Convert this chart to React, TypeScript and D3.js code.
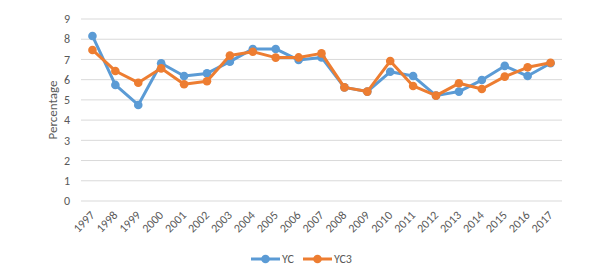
import React from 'react';
import * as d3 from 'd3';

const years = ['1997', '1998', '1999', '2000', '2001', '2002', '2003', '2004', '2005', '2006', '2007',
  '2008', '2009', '2010', '2011', '2012', '2013', '2014', '2015', '2016', '2017'];
const yc = [8.16, 5.74, 4.75, 6.81, 6.18, 6.31, 6.89, 7.52, 7.52, 6.97, 7.1,
  5.62, 5.41, 6.39, 6.18, 5.21, 5.41, 5.98, 6.68, 6.18, 6.81];
const yc3 = [7.47, 6.43, 5.85, 6.56, 5.77, 5.92, 7.19, 7.38, 7.09, 7.1, 7.3,
  5.62, 5.41, 6.92, 5.69, 5.21, 5.82, 5.54, 6.15, 6.61, 6.84];
const yTicks = [0, 1, 2, 3, 4, 5, 6, 7, 8, 9];

const series = [
  { name: 'YC', values: yc, color: '#5B9BD5' },
  { name: 'YC3', values: yc3, color: '#ED7D31' },
];

export default function App() {
  const width = 608;
  const height = 276;
  const left = 81;
  const right = 562;
  const top = 19;
  const bottom = 201;

  const x = d3.scaleBand().domain(years).range([left, right]);
  const y = d3.scaleLinear().domain([0, 9]).range([bottom, top]);
  const cx = (yr: string) => (x(yr) ?? 0) + x.bandwidth() / 2;

  const line = d3.line<number>()
    .x((_, i) => cx(years[i]))
    .y(d => y(d));

  const font = 'Carlito, "Liberation Sans", Arial, sans-serif';

  return (
    <svg width={width} height={height} style={{ position: 'absolute', left: 0, top: 0, background: '#fff' }}
      fontFamily={font}>
      {yTicks.map(t => (
        <g key={t}>
          <line x1={left} x2={right} y1={y(t)} y2={y(t)} stroke="#D9D9D9" strokeWidth={1} />
          <text x={70} y={y(t)} dy="0.35em" textAnchor="end" fontSize={12} fill="#595959">{t}</text>
        </g>
      ))}
      {years.map(yr => (
        <text key={yr} transform={`translate(${cx(yr) + 3},${bottom + 15}) rotate(-45)`}
          textAnchor="end" fontSize={12} fill="#595959">{yr}</text>
      ))}
      <text transform={`translate(57,110) rotate(-90)`} textAnchor="middle"
        fontSize={13} fill="#595959">Percentage</text>
      {series.map(s => (
        <g key={s.name}>
          <path d={line(s.values) ?? ''} fill="none" stroke={s.color} strokeWidth={3} strokeLinejoin="round" />
          {s.values.map((v, i) => (
            <circle key={i} cx={cx(years[i])} cy={y(v)} r={4.3} fill={s.color} />
          ))}
        </g>
      ))}
      {series.map((s, i) => {
        const lx = 251 + i * 52;
        return (
          <g key={s.name}>
            <line x1={lx} x2={lx + 29} y1={259} y2={259} stroke={s.color} strokeWidth={3} />
            <circle cx={lx + 14.5} cy={259} r={4.3} fill={s.color} />
            <text x={lx + 31} y={259} dy="0.35em" fontSize={12} fill="#595959">{s.name}</text>
          </g>
        );
      })}
    </svg>
  );
}
